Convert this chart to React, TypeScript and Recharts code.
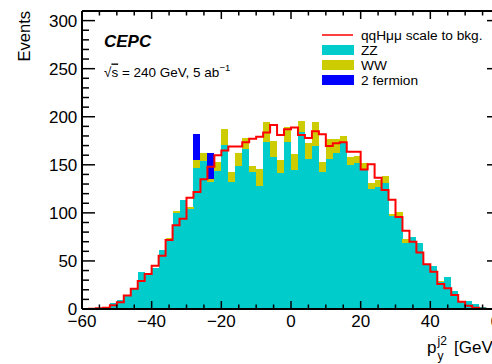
import React from 'react';
import { ComposedChart, Bar, Line, XAxis, YAxis } from 'recharts';

const FONT = '"Liberation Sans", Arial, Helvetica, sans-serif';

const binCenters = [
  -59, -57, -55, -53, -51, -49, -47, -45, -43, -41,
  -39, -37, -35, -33, -31, -29, -27, -25, -23, -21,
  -19, -17, -15, -13, -11, -9, -7, -5, -3, -1,
  1, 3, 5, 7, 9, 11, 13, 15, 17, 19,
  21, 23, 25, 27, 29, 31, 33, 35, 37, 39,
  41, 43, 45, 47, 49, 51, 53, 55, 57, 59,
];

const zzCounts = [
  0, 0.7, 1.4, 2.4, 6.5, 9, 14, 21, 38, 36,
  43, 61, 72.8, 99.5, 113.4, 103.7, 146.4, 154.3, 131.8, 143.6,
  170.7, 132.5, 148.8, 166.5, 142.9, 128, 174, 158.5, 141, 174,
  145, 184.3, 156, 169.6, 142.5, 156, 162.7, 172.4, 149.5, 152,
  145, 125, 127.3, 130.8, 96.8, 96, 69, 74.6, 69, 45.8,
  45, 28, 33.6, 18.7, 8.3, 8.3, 5.2, 2.4, 0.7, 0,
];

const wwCounts = [
  0, 0, 0, 0, 0, 0, 0, 0, 0, 0,
  0, 0, 0.8, 2.5, 0, 2.8, 8.7, 7.7, 3.5, 9.7,
  16.5, 10.1, 13.9, 11.5, 5.9, 17.7, 20.2, 16.7, 14.2, 15.6,
  16.3, 11.5, 16.4, 24.6, 10.8, 20.7, 14.2, 7.6, 9, 7,
  7, 5.9, 6.9, 7.6, 2, 5.3, 3.5, 0, 0, 0,
  0, 1.5, 0, 0, 0, 0, 0, 0, 0, 0,
];

const twoFermionCounts = [
  0, 0, 0, 0, 0, 0, 0, 0, 0, 0,
  0, 0, 0, 0, 0, 0, 27, 0, 27, 0,
  0, 0, 0, 0, 0, 0, 0, 0, 0, 0,
  0, 0, 0, 0, 0, 0, 0, 0, 0, 0,
  0, 0, 0, 0, 0, 0, 0, 0, 0, 0,
  0, 0, 0, 0, 0, 0, 0, 0, 0, 0,
];

const signalCounts = [
  0, 0.3, 0.8, 1.2, 3.8, 7, 14, 21, 29, 36.4,
  45, 55.5, 71.8, 87, 94, 115.8, 121.7, 135, 148, 160,
  165, 169, 169, 173.4, 177, 179.3, 183.5, 191.5, 181, 187,
  188.7, 181, 178, 185, 181.8, 169.6, 172.4, 173.4, 163.7, 163.7,
  145, 150.5, 136.5, 123.8, 113.6, 95.7, 81.5, 70, 58.8, 46.6,
  38.8, 26, 21.5, 14.6, 7.6, 3.5, 1.4, 0.3, 0, 0,
];

const xTicks = [-60, -55, -50, -45, -40, -35, -30, -25, -20, -15, -10, -5, 0, 5, 10, 15, 20, 25, 30, 35, 40, 45, 50, 55, 60];
const xLabelTicks = [-60, -40, -20, 0, 20, 40, 60];
const yTicks = [0, 10, 20, 30, 40, 50, 60, 70, 80, 90, 100, 110, 120, 130, 140, 150, 160, 170, 180, 190, 200, 210, 220, 230, 240, 250, 260, 270, 280, 290, 300];
const yLabelTicks = [0, 50, 100, 150, 200, 250, 300];

const COLORS = { zz: '#00cccc', ww: '#cccc00', ff: '#0000ff', sig: '#ff0000' };

const legendItems = [
  { label: 'qqHμμ scale to bkg.', color: COLORS.sig, kind: 'line' },
  { label: 'ZZ', color: COLORS.zz, kind: 'box' },
  { label: 'WW', color: COLORS.ww, kind: 'box' },
  { label: '2 fermion', color: COLORS.ff, kind: 'box' },
];

const data = binCenters.map((x, i) => ({
  x,
  zz: zzCounts[i],
  ww: wwCounts[i],
  ff: twoFermionCounts[i],
  sig: signalCounts[i],
}));

const fmt = (v: number) => (v < 0 ? '\u2212' + Math.abs(v) : String(v));

const TICK_W = 1.5;

function BottomTick(props: any) {
  const { x, y, payload } = props;
  const v = payload.value;
  const major = xLabelTicks.includes(v);
  return (
    <g>
      <line x1={x} x2={x} y1={y} y2={y - (major ? 8 : 4.5)} stroke="#000" strokeWidth={TICK_W} />
      {major && (
        <text x={x} y={y + 18} textAnchor="middle" fontSize={17} fontFamily={FONT} fill="#000">
          {fmt(v)}
        </text>
      )}
    </g>
  );
}

function TopTick(props: any) {
  const { x, y, payload } = props;
  const major = xLabelTicks.includes(payload.value);
  return <line x1={x} x2={x} y1={y} y2={y + (major ? 8 : 4.5)} stroke="#000" strokeWidth={TICK_W} />;
}

function LeftTick(props: any) {
  const { x, y, payload } = props;
  const v = payload.value;
  const major = yLabelTicks.includes(v);
  return (
    <g>
      <line x1={x} x2={x + (major ? 13 : 7)} y1={y} y2={y} stroke="#000" strokeWidth={TICK_W} />
      {major && (
        <text x={x - 4.7} y={y + 6.3} textAnchor="end" fontSize={17} fontFamily={FONT} fill="#000">
          {fmt(v)}
        </text>
      )}
    </g>
  );
}

function RightTick(props: any) {
  const { x, y, payload } = props;
  const major = yLabelTicks.includes(payload.value);
  return <line x1={x} x2={x - (major ? 13 : 7)} y1={y} y2={y} stroke="#000" strokeWidth={TICK_W} />;
}

function Overlay() {
  return (
    <svg
      width={492}
      height={364}
      style={{ position: 'absolute', left: 0, top: 0, pointerEvents: 'none' }}
      fontFamily={FONT}
    >
      <text x={104} y={47} fontSize={17} fontWeight="bold" fontStyle="italic" fill="#000">
        CEPC
      </text>
      <text x={104} y={76.5} fontSize={13.5} fill="#000">
        √<tspan style={{ textDecoration: 'overline' }}>s</tspan> = 240 GeV, 5 ab
        <tspan dy={-6} fontSize={9.5}>
          −1
        </tspan>
      </text>
      {legendItems.map((it, i) => {
        const cy = 35 + i * 15;
        return (
          <g key={it.label}>
            {it.kind === 'line' ? (
              <line x1={322} x2={353} y1={cy} y2={cy} stroke={it.color} strokeWidth={1.5} />
            ) : (
              <rect x={322} y={cy - 5} width={32} height={10} fill={it.color} />
            )}
            <text x={361} y={cy + 4.8} fontSize={13.7} fill="#000">
              {it.label}
            </text>
          </g>
        );
      })}
      <text transform="translate(29.5,11) rotate(-90)" textAnchor="end" fontSize={16.5} fill="#000">
        Events
      </text>
      <text x={427} y={352.7} fontSize={17} fill="#000">
        p
      </text>
      <text x={437.5} y={345} fontSize={12} fill="#000">
        j2
      </text>
      <text x={437.5} y={360} fontSize={12} fill="#000">
        y
      </text>
      <text x={454} y={352.7} fontSize={17} fill="#000">
        [GeV]
      </text>
    </svg>
  );
}

export default function App() {
  return (
    <div
      style={{
        position: 'fixed',
        left: 0,
        top: 0,
        width: 492,
        height: 364,
        overflow: 'hidden',
        background: '#fff',
      }}
    >
      <ComposedChart
        width={520}
        height={364}
        data={data}
        margin={{ top: 0, right: 0, bottom: 0, left: 0 }}
        barCategoryGap={0}
        barGap={0}
      >
        <XAxis
          dataKey="x"
          type="number"
          domain={[-60, 60]}
          ticks={xTicks}
          interval={0}
          height={55}
          tickSize={0}
          tickMargin={0}
          tickLine={false}
          tick={BottomTick}
          axisLine={{ stroke: '#000', strokeWidth: 2 }}
          allowDataOverflow
        />
        <XAxis
          xAxisId="top"
          orientation="top"
          dataKey="x"
          type="number"
          domain={[-60, 60]}
          ticks={xTicks}
          interval={0}
          height={11}
          tickSize={0}
          tickMargin={0}
          tickLine={false}
          tick={TopTick}
          axisLine={{ stroke: '#000', strokeWidth: 2 }}
          allowDataOverflow
        />
        <YAxis
          type="number"
          domain={[0, 310]}
          ticks={yTicks}
          interval={0}
          width={82}
          tickSize={0}
          tickMargin={0}
          tickLine={false}
          tick={LeftTick}
          axisLine={{ stroke: '#000', strokeWidth: 2 }}
          allowDataOverflow
        />
        <YAxis
          yAxisId="right"
          orientation="right"
          type="number"
          domain={[0, 310]}
          ticks={yTicks}
          interval={0}
          width={20}
          tickSize={0}
          tickMargin={0}
          tickLine={false}
          tick={RightTick}
          axisLine={{ stroke: '#000', strokeWidth: 2 }}
          allowDataOverflow
        />
        <Bar dataKey="zz" stackId="bkg" fill={COLORS.zz} isAnimationActive={false} shapeRendering="crispEdges" />
        <Bar dataKey="ww" stackId="bkg" fill={COLORS.ww} isAnimationActive={false} shapeRendering="crispEdges" />
        <Bar dataKey="ff" stackId="bkg" fill={COLORS.ff} isAnimationActive={false} shapeRendering="crispEdges" />
        <Line
          dataKey="sig"
          type="step"
          stroke={COLORS.sig}
          strokeWidth={2}
          dot={false}
          activeDot={false}
          isAnimationActive={false}
        />
        <Line
          xAxisId="top"
          yAxisId="right"
          dataKey="sig"
          stroke="none"
          dot={false}
          activeDot={false}
          isAnimationActive={false}
        />
      </ComposedChart>
      <Overlay />
    </div>
  );
}
